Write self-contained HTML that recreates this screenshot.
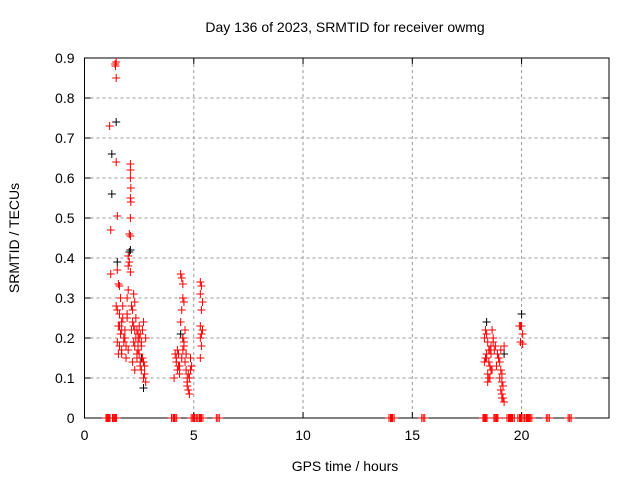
<!DOCTYPE html>
<html><head><meta charset="utf-8"><style>
body{margin:0;background:#fff;}
svg text{font-family:"Liberation Sans",sans-serif;font-size:14px;fill:#000;}
</style></head><body>
<svg id="chart" width="640" height="480">
<text x="345" y="32" text-anchor="middle">Day 136 of 2023, SRMTID for receiver owmg</text>
<text x="345" y="471" text-anchor="middle">GPS time / hours</text>
<text transform="translate(19,238) rotate(-90)" text-anchor="middle">SRMTID / TECUs</text>
<g id="grid"></g><g id="axes"></g><g id="pts"></g>
</svg>
<script>
const xTicks=[0,5,10,15,20];
const yTicks=[0,0.1,0.2,0.3,0.4,0.5,0.6,0.7,0.8,0.9];
const blackX=[1.25,1.25,1.45,1.5,2.05,2.1,2.7,4.4,4.5,18.4,19.2,20.0,2.6];
const blackY=[0.66,0.56,0.74,0.39,0.415,0.42,0.075,0.21,0.2,0.24,0.16,0.26,0.15];
const redX=[1.15,1.2,1.4,1.42,1.45,1.45,1.45,1.2,1.5,1.5,1.55,1.6,1.45,1.65,1.6,1.7,1.7,1.75,1.8,1.55,1.65,1.5,1.6,1.55,1.7,1.8,1.9,1.5,1.6,1.75,1.85,1.95,
2.1,2.1,2.1,2.12,2.1,2.12,2.1,2.05,2.1,2.0,2.05,2.0,2.1,2.0,1.95,1.95,2.15,2.25,2.2,2.3,2.2,2.3,2.4,2.45,2.35,2.3,2.25,2.4,2.5,2.55,2.5,2.45,2.6,2.65,2.7,2.55,2.6,2.75,2.7,2.65,2.7,2.8,2.5,2.4,2.2,2.3,2.0,1.9,2.15,2.35,2.6,2.75,2.8,1.85,1.7,2.45,2.25,2.55,
4.1,4.15,4.2,4.25,4.3,4.3,4.35,4.2,4.4,4.45,4.5,4.5,4.55,4.45,4.4,4.6,4.5,4.55,4.5,4.45,4.6,4.65,4.7,4.7,4.75,4.8,4.8,4.85,4.9,4.75,4.65,4.55,4.35,4.25,4.7,4.85,
5.3,5.35,5.3,5.4,5.35,5.3,5.4,5.35,5.3,5.35,5.3,
18.3,18.35,18.4,18.45,18.5,18.4,18.35,18.5,18.55,18.6,18.45,18.5,18.6,18.65,18.7,18.55,18.4,18.3,18.6,18.7,18.75,18.65,18.55,18.45,18.8,18.9,18.95,19.0,19.05,19.1,19.0,19.1,19.15,19.05,19.1,19.15,19.2,19.1,19.05,19.2,18.85,18.95,
19.9,19.95,20.0,20.05,19.95,20.05];
const redY=[0.73,0.47,0.885,0.88,0.89,0.85,0.64,0.36,0.505,0.37,0.335,0.33,0.28,0.3,0.26,0.24,0.22,0.25,0.2,0.23,0.21,0.19,0.18,0.16,0.17,0.19,0.15,0.27,0.23,0.28,0.22,0.25,
0.635,0.62,0.6,0.575,0.55,0.54,0.5,0.46,0.455,0.405,0.39,0.38,0.365,0.32,0.3,0.26,0.28,0.31,0.27,0.29,0.24,0.22,0.22,0.21,0.2,0.18,0.19,0.16,0.23,0.21,0.2,0.17,0.18,0.15,0.14,0.13,0.12,0.13,0.1,0.22,0.24,0.2,0.16,0.15,0.14,0.12,0.17,0.18,0.22,0.25,0.19,0.11,0.09,0.2,0.16,0.19,0.23,0.14,
0.1,0.16,0.14,0.12,0.13,0.16,0.11,0.15,0.36,0.35,0.335,0.3,0.29,0.27,0.24,0.22,0.2,0.19,0.17,0.15,0.14,0.12,0.1,0.08,0.07,0.06,0.1,0.12,0.13,0.11,0.16,0.18,0.13,0.17,0.09,0.15,
0.34,0.33,0.31,0.29,0.27,0.23,0.22,0.21,0.2,0.18,0.15,
0.2,0.22,0.21,0.19,0.17,0.16,0.15,0.14,0.13,0.12,0.11,0.1,0.18,0.22,0.2,0.17,0.15,0.14,0.16,0.19,0.17,0.12,0.1,0.09,0.18,0.16,0.15,0.14,0.12,0.11,0.1,0.09,0.08,0.07,0.06,0.05,0.04,0.05,0.17,0.18,0.13,0.15,
0.23,0.23,0.23,0.21,0.19,0.185];
const zeroX=[1.05,1.1,1.35,1.4,4.05,4.15,4.95,5.05,5.25,5.35,6.1,14.0,14.1,15.5,18.3,18.35,18.8,18.85,19.4,19.5,19.6,19.9,20.0,20.2,20.3,20.4,21.2,22.2];
const L=84.5,R=609,T=58,B=418;
const sx=v=>L+v/24*(R-L), sy=v=>B-v/0.9*(B-T);
const NS="http://www.w3.org/2000/svg";
function mk(tag,attrs,parent){const e=document.createElementNS(NS,tag);for(const k in attrs)e.setAttribute(k,attrs[k]);document.getElementById(parent).appendChild(e);return e;}
xTicks.forEach(v=>{const x=sx(v);
 if(v>0){const g=mk('line',{x1:x,x2:x,y1:T,y2:B,stroke:'#999','stroke-dasharray':'3,3'},'grid');}
 mk('line',{x1:x,x2:x,y1:B,y2:B-6,stroke:'#000'},'axes');mk('line',{x1:x,x2:x,y1:T,y2:T+6,stroke:'#000'},'axes');
 const t=mk('text',{x:x,y:B+22,'text-anchor':'middle'},'axes');t.textContent=v;
 });
yTicks.forEach(v=>{const y=sy(v);
 if(v>0&&v<0.9){const g=mk('line',{x1:L,x2:R,y1:y,y2:y,stroke:'#999','stroke-dasharray':'3,3'},'grid');}
 mk('line',{x1:L,x2:L+6,y1:y,y2:y,stroke:'#000'},'axes');mk('line',{x1:R,x2:R-6,y1:y,y2:y,stroke:'#000'},'axes');
 const t=mk('text',{x:L-10,y:y+5,'text-anchor':'end'},'axes');t.textContent=v===0?'0':v.toFixed(1);
 });
const fr=mk('rect',{x:L,y:T,width:R-L,height:B-T,fill:'none',stroke:'#000'},'axes');

function plus(x,y,c){const p=mk('path',{d:`M${x-4},${y}h8M${x},${y-4}v8`,stroke:c,'stroke-width':1},'pts');return p;}
blackX.forEach((v,i)=>{const p=plus(sx(v),sy(blackY[i]),'#000');
 });
redX.forEach((v,i)=>{const p=plus(sx(v),sy(redY[i]),'#f00');
 });
zeroX.forEach(v=>{[-1.5,0,1.5].forEach(o=>{const p=plus(sx(v)+o,sy(0),'#f00');
 
 });});
</script>
</body></html>
